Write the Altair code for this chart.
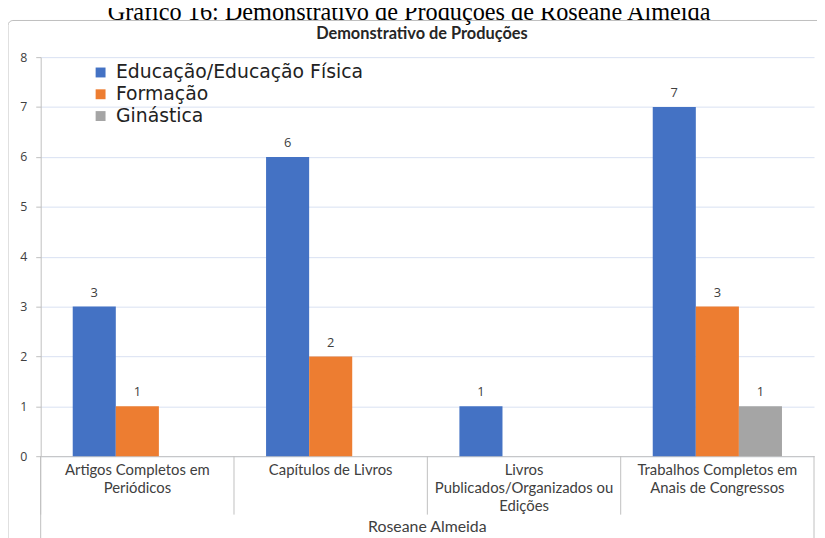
import altair as alt
import pandas as pd

# ---- data ----
categories = [
    "Artigos Completos em Periódicos",
    "Capítulos de Livros",
    "Livros Publicados/Organizados ou Edições",
    "Trabalhos Completos em Anais de Congressos",
]
category_lines = [
    ["Artigos Completos em", "Periódicos"],
    ["Capítulos de Livros"],
    ["Livros", "Publicados/Organizados ou", "Edições"],
    ["Trabalhos Completos em", "Anais de Congressos"],
]
series = ["Educação/Educação Física", "Formação", "Ginástica"]
educacao = [3, 6, 1, 7]
formacao = [1, 2, None, 3]
ginastica = [None, None, None, 1]
colors = ["#4472c4", "#ed7d31", "#a5a5a5"]
y_ticks = [0, 1, 2, 3, 4, 5, 6, 7, 8]

caption = "Gráfico 16: Demonstrativo de Produções de Roseane Almeida"
chart_title = "Demonstrativo de Produções"
group_label = "Roseane Almeida"

# ---- build table ----
rows = []
for s, vals in zip(series, [educacao, formacao, ginastica]):
    for c, v in zip(categories, vals):
        if v is not None:
            rows.append({"cat": c, "series": s, "value": v})
df = pd.DataFrame(rows)
cat_df = pd.DataFrame({"cat": categories})
one = pd.DataFrame({"k": [0]})

W, H = 781, 403
grid_col = "#d9e1f2"
line_col = "#bfbfbf"
txt_col = "#404040"

label_expr = "{" + ", ".join(
    "'" + c + "': [" + ", ".join("'" + l + "'" for l in ls) + "]"
    for c, ls in zip(categories, category_lines)
) + "}[datum.label]"

x_enc = alt.X(
    "cat:N",
    sort=categories,
    scale=alt.Scale(domain=categories, paddingInner=0, paddingOuter=0),
    axis=alt.Axis(
        title=None,
        ticks=False,
        domainColor=line_col,
        labelExpr=label_expr,
        labelFont="Lato",
        labelFontSize=15,
        labelColor=txt_col,
        labelLineHeight=18,
        labelPadding=7,
        labelLimit=400,
        labelAngle=0,
        labelBaseline="top",
    ),
)
xoff = alt.XOffset(
    "series:N", sort=series,
    scale=alt.Scale(domain=series, paddingInner=0, paddingOuter=0.744),
)
y_enc = alt.Y(
    "value:Q",
    scale=alt.Scale(domain=[0, 8], nice=False),
    axis=alt.Axis(
        title=None,
        values=y_ticks,
        tickSize=5,
        tickColor=line_col,
        domainColor=line_col,
        gridColor=grid_col,
        labelPadding=9,
        labelFont="Open Sans",
        labelFontSize=12.5,
        labelColor=txt_col,
    ),
)

frame = alt.Chart(one).mark_rect(
    fillOpacity=0, stroke="#bfbfbf", strokeWidth=1, cornerRadius=5
).encode(
    x=alt.value(-33), x2=alt.value(W + 60), y=alt.value(-37), y2=alt.value(H + 200)
)

bars = alt.Chart(df).mark_bar().encode(
    x=x_enc,
    xOffset=xoff,
    y=y_enc,
    color=alt.Color(
        "series:N",
        sort=series,
        scale=alt.Scale(domain=series, range=colors),
        legend=alt.Legend(
            title=None,
            orient="none",
            legendX=51,
            legendY=6,
            padding=0,
            symbolType="square",
            symbolSize=100,
            symbolStrokeWidth=0,
            labelFont="DejaVu Sans",
            labelFontSize=19,
            labelColor="#222222",
            labelOffset=6,
            rowPadding=2,
            labelLimit=500,
        ),
    ),
)

labels = alt.Chart(df).mark_text(
    baseline="alphabetic", dy=-10, font="Open Sans", fontSize=13, color=txt_col
).encode(
    x=alt.X("cat:N", sort=categories),
    xOffset=alt.XOffset("series:N", sort=series),
    y=alt.Y("value:Q"),
    text=alt.Text("value:Q"),
)

separators = alt.Chart(cat_df).mark_rule(color=line_col).encode(
    x=alt.X("cat:N", sort=categories, bandPosition=0),
    y=alt.value(H),
    y2=alt.value(H + 59),
)

side_lines = alt.Chart(pd.DataFrame({"px": [0, W]})).mark_rule(color=line_col).encode(
    x=alt.X("px:Q", scale=None),
    y=alt.value(H),
    y2=alt.value(H + 100),
)

cap = alt.Chart(pd.DataFrame({"t": [caption]})).mark_text(
    font="Liberation Serif", fontSize=24.5, color="#000000", baseline="alphabetic"
).encode(text="t:N", x=alt.value(372), y=alt.value(-38))

ttl = alt.Chart(pd.DataFrame({"t": [chart_title]})).mark_text(
    font="Lato", fontSize=16.5, fontWeight="bold", color="#262626", baseline="middle"
).encode(text="t:N", x=alt.value(385), y=alt.value(-23))

grp = alt.Chart(pd.DataFrame({"t": [group_label]})).mark_text(
    font="Lato", fontSize=16, color=txt_col, baseline="middle"
).encode(text="t:N", x=alt.value(W / 2), y=alt.value(H + 72))

chart = alt.layer(
    frame, bars, labels, separators, side_lines, cap, ttl, grp
).properties(
    width=W,
    height=H,
    autosize=alt.AutoSizeParams(type="none"),
    padding={"left": 33, "top": 47, "right": 3, "bottom": 80},
).configure_view(stroke=None).configure_axisY(gridColor=grid_col)

chart.save("out.html", embed_options={"renderer": "svg", "actions": False})
